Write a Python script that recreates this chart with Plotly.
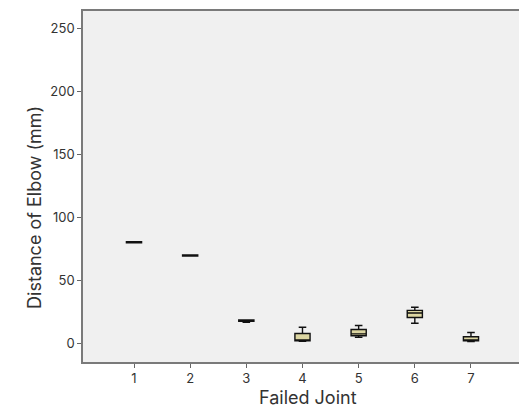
import plotly.graph_objects as go

# Failed joint index and five-number summaries of elbow distance (mm)
joints = [1, 2, 3, 4, 5, 6, 7]
lower_whisker = [79.6, 69.1, 16.5, 1.5, 4.5, 15.8, 1.2]
q1_vals = [79.6, 69.1, 17.2, 1.8, 5.8, 20.3, 1.8]
median_vals = [80.0, 69.5, 17.8, 2.4, 7.3, 23.9, 1.9]
q3_vals = [80.4, 69.9, 18.3, 7.6, 10.8, 26.0, 5.0]
upper_whisker = [80.4, 69.9, 18.3, 12.6, 14.0, 28.4, 8.4]

y_ticks = [0, 50, 100, 150, 200, 250]

x_title = "Failed Joint"
y_title = "Distance of Elbow (mm)"

fig = go.Figure(
    go.Box(
        x=joints,
        q1=q1_vals,
        median=median_vals,
        q3=q3_vals,
        lowerfence=lower_whisker,
        upperfence=upper_whisker,
        width=0.27,
        fillcolor="#dcd6a2",
        line=dict(color="#111111", width=1.4),
        whiskerwidth=0.5,
        boxpoints=False,
        showlegend=False,
        hoverinfo="skip",
    )
)

axis_font = dict(family="Inter, Open Sans, sans-serif", size=13, color="#333333")
title_font = dict(family="Inter, Open Sans, sans-serif", size=18, color="#333333")

fig.update_layout(
    width=519,
    height=414,
    margin=dict(l=83, r=0, t=11, b=52),
    paper_bgcolor="white",
    plot_bgcolor="#f0f0f0",
    font=axis_font,
    xaxis=dict(
        range=[0.092, 7.855],
        tickvals=joints,
        ticktext=[str(j) for j in joints],
        ticks="outside",
        ticklen=4,
        tickcolor="#666666",
        showgrid=False,
        zeroline=False,
        showline=True,
        linecolor="#7a7a7a",
        linewidth=1.5,
        mirror=True,
    ),
    yaxis=dict(
        range=[-15, 263.5],
        tickvals=y_ticks,
        ticks="outside",
        ticklen=4,
        tickcolor="#666666",
        showgrid=False,
        zeroline=False,
        showline=True,
        linecolor="#7a7a7a",
        linewidth=1.5,
    ),
    annotations=[
        dict(
            text=x_title, font=title_font, showarrow=False,
            xref="paper", yref="paper", x=0.515, y=-0.102,
            xanchor="center", yanchor="middle",
        ),
        dict(
            text=y_title, font=title_font, showarrow=False, textangle=-90,
            xref="paper", yref="paper", x=-0.110, y=0.439,
            xanchor="center", yanchor="middle",
        ),
    ],
)

fig.write_html("out.html")
